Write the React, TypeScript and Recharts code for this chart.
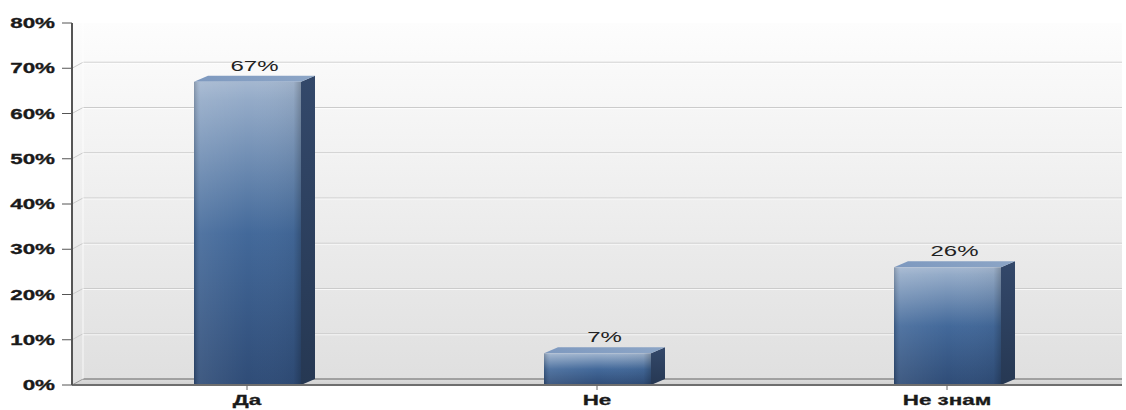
import { BarChart, Bar, XAxis, YAxis, CartesianGrid, LabelList } from 'recharts'

const answers = ['Да', 'Не', 'Не знам']
const shares = [67, 7, 26]
const yTicks = [0, 10, 20, 30, 40, 50, 60, 70, 80]

const data = answers.map((name, i) => ({ name, share: shares[i] }))

// depth of the pseudo-3D walls and bars
const WALL_DX = 11
const WALL_DY = 6
const BAR_DX = 14
const BAR_DY = 6
const STRETCH = 1.6
const FONT = '"Liberation Sans", Arial, sans-serif'

const GridLine = (p: any) => {
  const { x1, x2, y1, y, height } = p
  const top = y
  const bottom = y + height
  if (Math.abs(y1 - top) < 1) {
    // top of the back wall: only the left wall edge
    return (
      <line
        key={p.key}
        x1={x1 + WALL_DX}
        y1={top - WALL_DY}
        x2={x1 + WALL_DX}
        y2={bottom - WALL_DY}
        stroke="#ffffff"
        strokeOpacity={0.8}
      />
    )
  }
  if (Math.abs(y1 - bottom) < 1) {
    return (
      <g key={p.key}>
        <polygon
          points={`${x1},${y1} ${x1 + WALL_DX},${y1 - WALL_DY} ${x2},${y1 - WALL_DY} ${x2},${y1}`}
          fill="url(#floor)"
        />
        <line x1={x1 + WALL_DX} y1={y1 - WALL_DY} x2={x2} y2={y1 - WALL_DY} stroke="#8c8c8c" strokeWidth={1.5} />
        <line x1={x1} y1={y1} x2={x1 + WALL_DX} y2={y1 - WALL_DY} stroke="#9a9a9a" />
      </g>
    )
  }
  return (
    <g key={p.key}>
      <polyline
        points={`${x1},${y1} ${x1 + WALL_DX},${y1 - WALL_DY} ${x2},${y1 - WALL_DY}`}
        fill="none"
        stroke="#cbcbcb"
      />
      <line x1={x1 + WALL_DX} y1={y1 - WALL_DY + 1} x2={x2} y2={y1 - WALL_DY + 1} stroke="#ffffff" strokeOpacity={0.7} />
    </g>
  )
}

const Bar3D = (p: any) => {
  const { x, y, width: w, height: h } = p
  if (h <= 0) return null
  return (
    <g>
      <polygon
        points={`${x + w},${y} ${x + w + BAR_DX},${y - BAR_DY} ${x + w + BAR_DX},${y + h - BAR_DY} ${x + w},${y + h}`}
        fill="url(#barSide)"
      />
      <polygon
        points={`${x},${y} ${x + BAR_DX},${y - BAR_DY} ${x + w + BAR_DX},${y - BAR_DY} ${x + w},${y}`}
        fill="url(#barTop)"
      />
      <rect x={x} y={y} width={w} height={h} fill="url(#barFront)" />
      <rect x={x} y={y} width={w} height={h} fill="url(#barShade)" />
    </g>
  )
}

const ValueLabel = (p: any) => {
  const { x, y, width, value } = p
  const cx = x + width / 2 + BAR_DX / 2
  return (
    <g transform={`translate(${cx},${y - BAR_DY - 5}) scale(${STRETCH},1)`}>
      <text x={0} y={0} textAnchor="middle" fontFamily={FONT} fontSize={15} fill="#222">
        {`${value}%`}
      </text>
    </g>
  )
}

const YTick = (p: any) => {
  const { x, y, payload } = p
  return (
    <g transform={`translate(${x},${y}) scale(${STRETCH},1)`}>
      <text
        x={0}
        y={0}
        dy={5}
        textAnchor="end"
        fontFamily={FONT}
        fontSize={14}
        fontWeight="bold"
        fill="#1a1a1a"
        stroke="#1a1a1a"
        strokeWidth={0.3}
      >
        {`${payload.value}%`}
      </text>
    </g>
  )
}

const XTick = (p: any) => {
  const { x, y, payload } = p
  return (
    <g transform={`translate(${x},${y}) scale(${STRETCH},1)`}>
      <text
        x={0}
        y={0}
        dy={13}
        textAnchor="middle"
        fontFamily={FONT}
        fontSize={14}
        fontWeight="bold"
        fill="#1a1a1a"
        stroke="#1a1a1a"
        strokeWidth={0.3}
      >
        {payload.value}
      </text>
    </g>
  )
}

export default function App() {
  return (
    <div style={{ position: 'absolute', left: 0, top: 0, width: 1126, height: 410, background: '#fff' }}>
      <BarChart width={1126} height={410} data={data} margin={{ top: 23, right: 4, bottom: 0, left: 0 }}>
        <defs>
          <linearGradient id="wall" x1="0" y1="0" x2="0" y2="1">
            <stop offset="0" stopColor="#fdfdfd" />
            <stop offset="1" stopColor="#dfdfdf" />
          </linearGradient>
          <linearGradient id="floor" x1="0" y1="0" x2="0" y2="1">
            <stop offset="0" stopColor="#dddddd" />
            <stop offset="1" stopColor="#d0d0d0" />
          </linearGradient>
          <linearGradient id="barFront" x1="0" y1="0" x2="0" y2="1">
            <stop offset="0" stopColor="#a4b7d0" />
            <stop offset="0.06" stopColor="#94abc8" />
            <stop offset="0.5" stopColor="#43699a" />
            <stop offset="1" stopColor="#2f4c77" />
          </linearGradient>
          <linearGradient id="barShade" x1="0" y1="0" x2="1" y2="0">
            <stop offset="0" stopColor="#000" stopOpacity={0.18} />
            <stop offset="0.06" stopColor="#fff" stopOpacity={0.08} />
            <stop offset="0.5" stopColor="#fff" stopOpacity={0} />
            <stop offset="0.93" stopColor="#000" stopOpacity={0.04} />
            <stop offset="1" stopColor="#000" stopOpacity={0.22} />
          </linearGradient>
          <linearGradient id="barSide" x1="0" y1="0" x2="0" y2="1">
            <stop offset="0" stopColor="#33486a" />
            <stop offset="1" stopColor="#263853" />
          </linearGradient>
          <linearGradient id="barTop" x1="0" y1="0" x2="1" y2="0">
            <stop offset="0" stopColor="#7e99bf" />
            <stop offset="1" stopColor="#8ca5c6" />
          </linearGradient>
        </defs>
        <CartesianGrid vertical={false} horizontal={GridLine} fill="url(#wall)" fillOpacity={1} />
        <XAxis
          dataKey="name"
          height={25}
          tick={XTick}
          tickSize={5}
          tickMargin={2}
          axisLine={{ stroke: '#6e6e6e', strokeWidth: 2 }}
          tickLine={{ stroke: '#666' }}
        />
        <YAxis
          width={72}
          domain={[0, 80]}
          ticks={yTicks}
          interval={0}
          tick={YTick}
          tickSize={10}
          tickMargin={7}
          axisLine={{ stroke: '#555', strokeWidth: 2 }}
          tickLine={{ stroke: '#555' }}
        />
        <Bar dataKey="share" barSize={107} shape={Bar3D} isAnimationActive={false}>
          <LabelList dataKey="share" content={ValueLabel} />
        </Bar>
      </BarChart>
    </div>
  )
}
